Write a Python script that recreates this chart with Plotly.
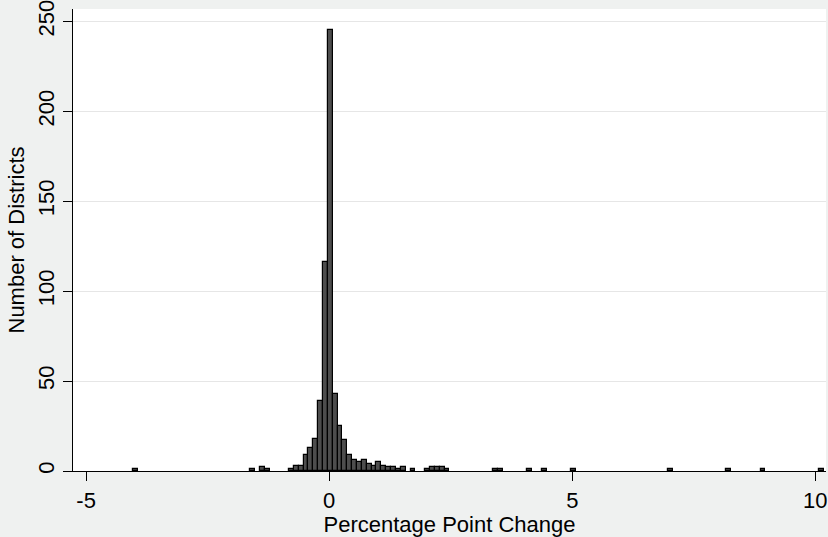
import plotly.graph_objects as go

# Histogram bins (centers, percentage points) and counts of districts
bin_centers = [
    -3.977,
    -1.577, -1.377, -1.277,
    -0.777, -0.677, -0.577, -0.477, -0.377, -0.277, -0.177, -0.077,
    0.023, 0.123, 0.223, 0.323, 0.423, 0.523, 0.623, 0.723, 0.823,
    0.923, 1.023, 1.123, 1.223, 1.323, 1.423, 1.523, 1.723,
    2.023, 2.123, 2.223, 2.323, 2.423,
    3.423, 3.523, 4.123, 4.423, 5.023, 7.023, 8.223, 8.923, 10.123,
]
counts = [
    1,
    1, 2, 1,
    1, 3, 3, 9, 13, 18, 39, 116,
    245, 43, 25, 17, 9, 6, 5, 6, 4,
    3, 5, 3, 2, 2, 1, 2, 1,
    1, 2, 2, 2, 1,
    1, 1, 1, 1, 1, 1, 1, 1, 1,
]
bin_width = 0.1

x_ticks = [-5, 0, 5, 10]
x_tick_labels = ["-5", "0", "5", "10"]
y_ticks = [0, 50, 100, 150, 200, 250]
y_tick_labels = ["0", "50", "100", "150", "200", "250"]

FONT = "Liberation Sans, Arial, Helvetica, sans-serif"
FS = 22

fig = go.Figure(
    go.Bar(
        x=bin_centers,
        y=counts,
        width=bin_width,
        marker=dict(color="#4d4d4d", line=dict(color="#000000", width=1.2)),
        hoverinfo="x+y",
    )
)

fig.update_layout(
    width=828,
    height=537,
    margin=dict(l=73, r=0, t=7, b=63),
    paper_bgcolor="#eff1f0",
    plot_bgcolor="#ffffff",
    showlegend=False,
    bargap=0,
    font=dict(family=FONT, size=FS, color="#000000"),
)

fig.update_xaxes(
    range=[-5.27, 10.22],
    tickvals=x_ticks,
    ticktext=x_tick_labels,
    ticks="outside",
    ticklen=9,
    tickcolor="#000000",
    ticklabeloverflow="allow",
    showline=True,
    linecolor="#000000",
    linewidth=1.2,
    showgrid=False,
    zeroline=False,
    tickfont=dict(size=FS),
    title=dict(text="Percentage Point Change", font=dict(size=FS), standoff=9),
)

fig.update_yaxes(
    range=[0, 256.9],
    tickvals=y_ticks,
    ticktext=y_tick_labels,
    tickangle=-90,
    ticks="outside",
    ticklen=9,
    tickcolor="#000000",
    ticklabeloverflow="allow",
    showline=True,
    linecolor="#000000",
    linewidth=1.2,
    showgrid=True,
    gridcolor="#e6e6e6",
    gridwidth=1.2,
    zeroline=False,
    tickfont=dict(size=FS),
    title=dict(text="Number of Districts", font=dict(size=FS), standoff=3),
)

fig.write_html(
    "out.html",
    config={"displayModeBar": False},
    post_script="document.body.style.margin='0';document.body.style.padding='0';",
)
